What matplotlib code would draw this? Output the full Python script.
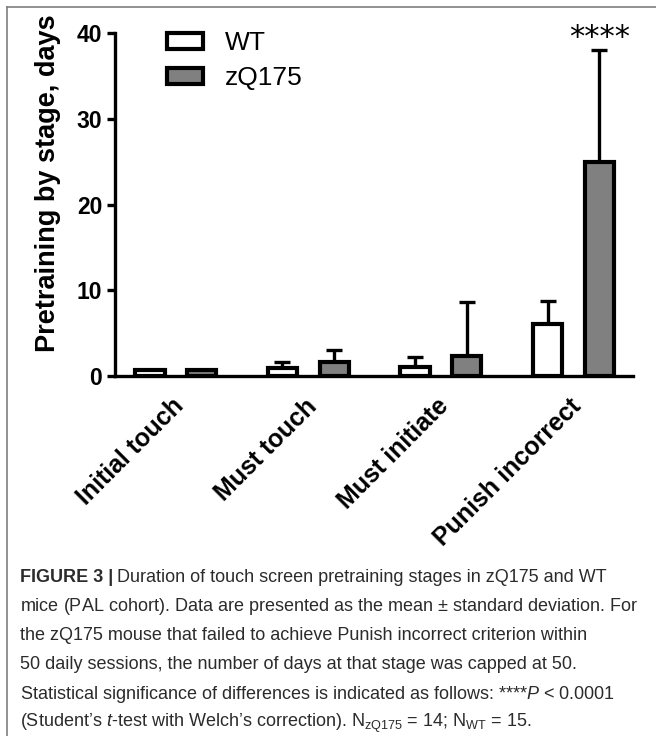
import matplotlib
matplotlib.use("Agg")
import matplotlib.pyplot as plt
import matplotlib.transforms as mtransforms
import numpy as np
from matplotlib.lines import Line2D

stages = ['Initial touch', 'Must touch', 'Must initiate', 'Punish incorrect']
wt_mean = [0.75, 1.0, 1.1, 6.1]
wt_sd = [0.0, 0.6, 1.15, 2.6]
zq_mean = [0.75, 1.7, 2.4, 25.0]
zq_sd = [0.0, 1.4, 6.2, 13.0]
groups = ['WT', 'zQ175']
stars = '****'

cap_font = 'Liberation Sans'
plt.rcParams['font.family'] = ['Liberation Sans', 'DejaVu Sans']
plt.rcParams['mathtext.fontset'] = 'custom'
plt.rcParams['mathtext.rm'] = cap_font
plt.rcParams['mathtext.it'] = cap_font + ':italic'

fig = plt.figure(figsize=(6.56, 7.36), dpi=100)
ax = fig.add_axes([0.175, 0.489, 0.79, 0.466])

x = np.arange(len(stages))
w = 0.22
off = 0.195
ax.bar(x - off, wt_mean, w, color='white', edgecolor='black', linewidth=3, label=groups[0], zorder=3)
ax.bar(x + off, zq_mean, w, color='#808080', edgecolor='black', linewidth=3, label=groups[1], zorder=3)

# upper-only error bars
for xs, m, s in [(x - off, wt_mean, wt_sd), (x + off, zq_mean, zq_sd)]:
    for xi, mi, si in zip(xs, m, s):
        if si > 0:
            ax.errorbar(xi, mi, yerr=[[0], [si]], fmt='none', ecolor='black',
                        elinewidth=2.4, capsize=5.5, capthick=2.4, zorder=2)

ax.annotate(stars, (x[-1] + off, zq_mean[-1] + zq_sd[-1]), xytext=(0, 9),
            textcoords='offset points', ha='center', va='center', fontsize=22,
            family='DejaVu Sans', annotation_clip=False)

ax.set_xlim(-0.46, 3.45)
ax.set_ylim(0, 40)
ax.set_yticks([0, 10, 20, 30, 40])
for side in ['top', 'right']:
    ax.spines[side].set_visible(False)
for side in ['left', 'bottom']:
    ax.spines[side].set_linewidth(2.4)
ax.tick_params(axis='y', width=2.4, length=6, labelsize=16.5, pad=3)
ax.tick_params(axis='x', length=0, labelsize=18, pad=13)
for t in ax.get_yticklabels():
    t.set_fontweight('bold')
ax.set_xticks(x)
ax.set_xticklabels(stages, rotation=45, ha='right', rotation_mode='anchor', fontweight='bold')
shift = mtransforms.ScaledTranslation(-4 / 100, 0, fig.dpi_scale_trans)
for t in ax.get_xticklabels():
    t.set_transform(t.get_transform() + shift)
ax.set_ylabel('Pretraining by stage, days', fontsize=19.5, fontweight='bold')
ax.yaxis.set_label_coords(-0.104, 0.563)

ax.legend(loc='upper left', bbox_to_anchor=(0.055, 1.075), frameon=False, fontsize=19,
          handlelength=1.35, handleheight=0.55, handletextpad=0.85, labelspacing=0.42)

# outer frame
fig.add_artist(Line2D([7 / 656, 1], [1 - 7 / 736, 1 - 7 / 736], transform=fig.transFigure, color='#7f7f7f', lw=1.2))
fig.add_artist(Line2D([7 / 656, 7 / 656], [0, 1 - 7 / 736], transform=fig.transFigure, color='#7f7f7f', lw=1.2))

# caption
cap_color = '#2b2b2b'
fs = 13.0
lines = [
    'Duration of touch screen pretraining stages in zQ175 and WT',
    'mice (PAL cohort). Data are presented as the mean $\\pm$ standard deviation. For',
    'the zQ175 mouse that failed to achieve Punish incorrect criterion within',
    '50 daily sessions, the number of days at that stage was capped at 50.',
    'Statistical significance of differences is indicated as follows: ****$\\mathit{P}$ < 0.0001',
    '(Student\u2019s $\\mathit{t}$-test with Welch\u2019s correction). N$_{\\mathrm{zQ175}}$ = 14; N$_{\\mathrm{WT}}$ = 15.',
]
x0 = 20 / 656
y0 = 1 - 577 / 736
dy = 29.3 / 736
r = fig.canvas.get_renderer()
head = fig.text(x0, y0, 'FIGURE 3 |', fontsize=fs, fontweight='bold', family=cap_font,
                color=cap_color, va='center')
bb = head.get_window_extent(r)
fig.text(bb.x1 / 656 + 4 / 656, y0, lines[0], fontsize=fs, family=cap_font, color=cap_color, va='center')
for i, ln in enumerate(lines[1:], start=1):
    fig.text(x0, y0 - i * dy, ln, fontsize=fs, family=cap_font, color=cap_color, va='center')

fig.savefig('out.png', dpi=100)
